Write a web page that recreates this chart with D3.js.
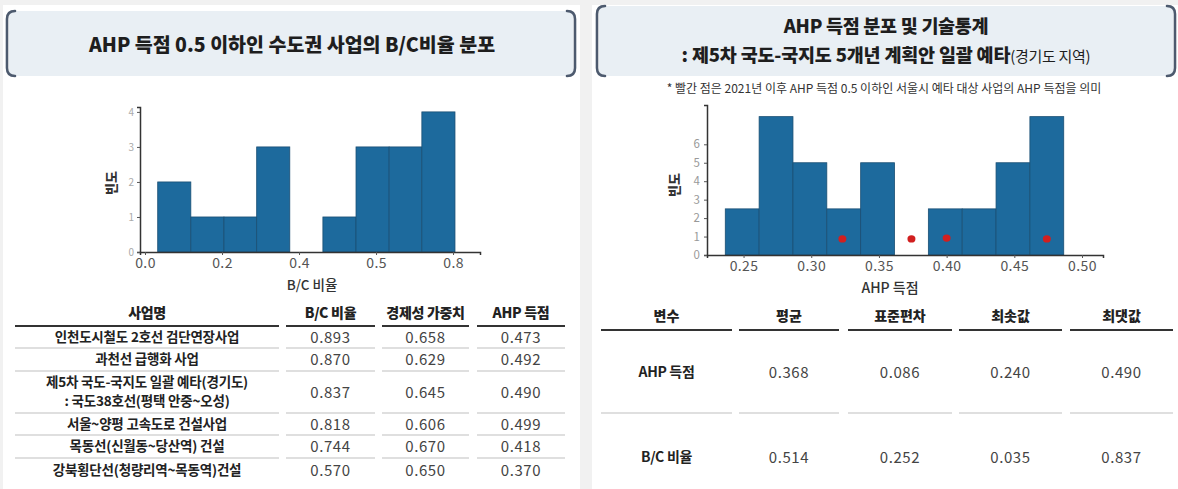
<!DOCTYPE html>
<html><head><meta charset="utf-8">
<script src="https://cdn.jsdelivr.net/npm/d3@7"></script>
<style>
html,body{margin:0;padding:0;background:#f1f1f1;}
svg{display:block;}
text{font-family:"Noto Sans CJK KR","Noto Sans",sans-serif;}
</style></head>
<body>
<svg id="c" width="1178" height="489"></svg>
<script>
// ---------- DATA ----------
// Left histogram: B/C ratio distribution (bin edges and counts)
const bcBinEdges = [0.033, 0.119, 0.205, 0.290, 0.376, 0.462, 0.548, 0.634, 0.719, 0.805];
const bcCounts   = [2, 1, 1, 3, 0, 1, 3, 3, 4];
const bcXTicks = [0, 0.2, 0.4, 0.6, 0.8];
const bcXTickLabels = ["0.0", "0.2", "0.4", "0.5", "0.8"];
const bcYTicks = [0, 1, 2, 3, 4];

// Right histogram: AHP score distribution (density)
const ahpBinEdges = [0.2365, 0.2615, 0.2865, 0.3115, 0.3365, 0.3615, 0.3865, 0.4115, 0.4365, 0.4615, 0.4865];
const ahpDensity  = [2.5, 7.5, 5, 2.5, 5, 0, 2.5, 2.5, 5, 7.5];
const ahpXTicks = [0.25, 0.30, 0.35, 0.40, 0.45, 0.50];
const ahpXTickLabels = ["0.25", "0.30", "0.35", "0.40", "0.45", "0.50"];
const ahpYTicks = [0, 1, 2, 3, 4, 5, 6];
// Red points: Seoul projects' AHP scores
const seoulAhpX = [0.323, 0.374, 0.400, 0.474];
const seoulAhpY = [0.87, 0.87, 0.92, 0.87];

// Left table
const tableHeaders = ["사업명", "B/C 비율", "경제성 가중치", "AHP 득점"];
const projectNames = [
  ["인천도시철도 2호선 검단연장사업"],
  ["과천선 급행화 사업"],
  ["제5차 국도-국지도 일괄 예타(경기도)", ": 국도38호선(평택 안중~오성)"],
  ["서울~양평 고속도로 건설사업"],
  ["목동선(신월동~당산역) 건설"],
  ["강북횡단선(청량리역~목동역)건설"]
];
const bcRatios   = ["0.893", "0.870", "0.837", "0.818", "0.744", "0.570"];
const econWeights = ["0.658", "0.629", "0.645", "0.606", "0.670", "0.650"];
const ahpScores  = ["0.473", "0.492", "0.490", "0.499", "0.418", "0.370"];

// Right table
const statHeaders = ["변수", "평균", "표준편차", "최솟값", "최댓값"];
const statVars = ["AHP 득점", "B/C 비율"];
const statMean = ["0.368", "0.514"];
const statStd  = ["0.086", "0.252"];
const statMin  = ["0.240", "0.035"];
const statMax  = ["0.490", "0.837"];

// ---------- DRAW ----------
const svg = d3.select("#c");
const BAR = "#1d6a9d", BAR_STROKE = "#1a4f74";
const NUMF = "'Noto Sans','DejaVu Sans',sans-serif";

// panels
svg.append("rect").attr("x",3).attr("y",5).attr("width",577).attr("height",484).attr("fill","#fff");
svg.append("rect").attr("x",592).attr("y",5).attr("width",586).attr("height",484).attr("fill","#fff");

function titleBox(x0, y0, x1, y1){
  const g = svg.append("g");
  g.append("rect").attr("x",x0+2).attr("y",y0).attr("width",x1-x0-4).attr("height",y1-y0).attr("fill","#e9eff4");
  const r = 8;
  g.append("path").attr("d",`M${x0+r},${y0} Q${x0},${y0} ${x0},${y0+r} L${x0},${y1-r} Q${x0},${y1} ${x0+r},${y1}`)
    .attr("fill","none").attr("stroke","#4d5a6e").attr("stroke-width",2.6).attr("stroke-linecap","round");
  g.append("path").attr("d",`M${x1-r},${y0} Q${x1},${y0} ${x1},${y0+r} L${x1},${y1-r} Q${x1},${y1} ${x1-r},${y1}`)
    .attr("fill","none").attr("stroke","#4d5a6e").attr("stroke-width",2.6).attr("stroke-linecap","round");
}
titleBox(7, 11, 575, 76);
titleBox(597, 6, 1175, 76);

svg.append("text").attr("x",292).attr("y",52).attr("text-anchor","middle")
  .attr("font-size",19.5).attr("font-weight",900).attr("fill","#1e1e1e").attr("letter-spacing",0)
  .text("AHP 득점 0.5 이하인 수도권 사업의 B/C비율 분포");

svg.append("text").attr("x",886).attr("y",33).attr("text-anchor","middle")
  .attr("font-size",18.5).attr("font-weight",900).attr("fill","#1e1e1e").attr("letter-spacing",-0.3)
  .text("AHP 득점 분포 및 기술통계");
const t2 = svg.append("text").attr("x",886).attr("y",62).attr("text-anchor","middle")
  .attr("font-size",18.5).attr("font-weight",900).attr("fill","#1e1e1e").attr("letter-spacing",-0.2);
t2.append("tspan").text(": 제5차 국도-국지도 5개년 계획안 일괄 예타");
t2.append("tspan").attr("font-size",15).attr("font-weight",400).attr("letter-spacing",-0.3).text("(경기도 지역)");

svg.append("text").attr("x",884).attr("y",93).attr("text-anchor","middle")
  .attr("font-size",12).attr("fill","#333").attr("letter-spacing",0)
  .text("* 빨간 점은 2021년 이후 AHP 득점 0.5 이하인 서울시 예타 대상 사업의 AHP 득점을 의미");

// ---------- Left histogram ----------
const xL = d3.scaleLinear().domain([-0.013, 0.870]).range([140, 480]);
const yL = d3.scaleLinear().domain([0, 4.14]).range([252, 107]);
const gL = svg.append("g");
gL.selectAll("rect.bar").data(bcCounts).join("rect")
  .attr("x",(d,i)=>xL(bcBinEdges[i]))
  .attr("width",(d,i)=>xL(bcBinEdges[i+1])-xL(bcBinEdges[i]))
  .attr("y",d=>yL(d)).attr("height",d=>yL(0)-yL(d))
  .attr("fill",BAR).attr("stroke",BAR_STROKE).attr("stroke-width",0.8);

const axXL = gL.append("g").attr("transform","translate(0,252)")
  .call(d3.axisBottom(xL).tickValues(bcXTicks).tickFormat((d,i)=>bcXTickLabels[i]).tickSizeOuter(0).tickSize(3).tickPadding(3));
const axYL = gL.append("g").attr("transform","translate(140,0)")
  .call(d3.axisLeft(yL).tickValues(bcYTicks).tickFormat(d3.format("d")).tickSizeOuter(0).tickSize(3).tickPadding(3));
[axXL, axYL].forEach(a=>{a.select(".domain").attr("stroke","#333").attr("stroke-width",1.5);
  a.selectAll(".tick line").attr("stroke","#555");});
axXL.selectAll("text").attr("font-size",14).attr("fill","#555").attr("font-family",NUMF).attr("letter-spacing",0.4);
axYL.selectAll("text").attr("font-size",10).attr("fill","#aaa").attr("font-family",NUMF);
gL.append("text").attr("x",312).attr("y",290).attr("text-anchor","middle").attr("font-size",13.5)
  .attr("font-weight",500).attr("fill","#333").text("B/C 비율");
gL.append("text").attr("transform","translate(116,183) rotate(-90)").attr("text-anchor","middle")
  .attr("font-size",13).attr("font-weight",900).attr("fill","#333").text("빈도");

// ---------- Right histogram ----------
const xR = d3.scaleLinear().domain([0.2230, 0.5155]).range([707, 1103]);
const yR = d3.scaleLinear().domain([0, 8.13]).range([255, 105]);
const gR = svg.append("g");
gR.selectAll("rect.bar").data(ahpDensity).join("rect")
  .attr("x",(d,i)=>xR(ahpBinEdges[i]))
  .attr("width",(d,i)=>xR(ahpBinEdges[i+1])-xR(ahpBinEdges[i]))
  .attr("y",d=>yR(d)).attr("height",d=>yR(0)-yR(d))
  .attr("fill",BAR).attr("stroke",BAR_STROKE).attr("stroke-width",0.8);
gR.selectAll("ellipse.pt").data(seoulAhpX).join("ellipse")
  .attr("cx",d=>xR(d)).attr("cy",(d,i)=>yR(seoulAhpY[i])).attr("rx",4).attr("ry",3.6).attr("fill","#d11f1f");
const axXR = gR.append("g").attr("transform","translate(0,255)")
  .call(d3.axisBottom(xR).tickValues(ahpXTicks).tickFormat((d,i)=>ahpXTickLabels[i]).tickSizeOuter(0).tickSize(3).tickPadding(3));
const axYR = gR.append("g").attr("transform","translate(707,0)")
  .call(d3.axisLeft(yR).tickValues(ahpYTicks).tickFormat(d3.format("d")).tickSizeOuter(0).tickSize(3).tickPadding(4));
[axXR, axYR].forEach(a=>{a.select(".domain").attr("stroke","#333").attr("stroke-width",1.5);
  a.selectAll(".tick line").attr("stroke","#555");});
axXR.selectAll("text").attr("font-size",14).attr("fill","#555").attr("font-family",NUMF).attr("letter-spacing",0.4);
axYR.selectAll("text").attr("font-size",11.5).attr("fill","#999").attr("font-family",NUMF);
gR.append("text").attr("x",890).attr("y",293).attr("text-anchor","middle").attr("font-size",14)
  .attr("font-weight",500).attr("fill","#333").text("AHP 득점");
gR.append("text").attr("transform","translate(679,185) rotate(-90)").attr("text-anchor","middle")
  .attr("font-size",13).attr("font-weight",900).attr("fill","#333").text("빈도");

// ---------- Left table ----------
const colsL = [[15,279],[286,375],[382,469],[477,565]];
const gT = svg.append("g");
tableHeaders.forEach((h,i)=>{
  const cx = (colsL[i][0]+colsL[i][1])/2;
  gT.append("text").attr("x",cx).attr("y",318).attr("text-anchor","middle").attr("font-size",14)
    .attr("font-weight",900).attr("fill","#222").attr("letter-spacing",-0.3).text(h);
  gT.append("line").attr("x1",colsL[i][0]).attr("x2",colsL[i][1]).attr("y1",326).attr("y2",326)
    .attr("stroke","#333").attr("stroke-width",2);
});
const rowTops = [326, 348, 371, 413, 435, 458];
const rowBottoms = [348, 371, 413, 435, 458, 482];
projectNames.forEach((lines,r)=>{
  const mid = (rowTops[r]+rowBottoms[r])/2;
  lines.forEach((ln,j)=>{
    gT.append("text").attr("x",(colsL[0][0]+colsL[0][1])/2)
      .attr("y",mid + (j-(lines.length-1)/2)*19 + 4.5).attr("text-anchor","middle")
      .attr("font-size",13.5).attr("font-weight",700).attr("fill","#222").attr("letter-spacing",-0.2).text(ln);
  });
  [bcRatios, econWeights, ahpScores].forEach((arr,c)=>{
    gT.append("text").attr("x",(colsL[c+1][0]+colsL[c+1][1])/2).attr("y",mid+5.5).attr("text-anchor","middle")
      .attr("font-size",15).attr("fill","#444").attr("font-family",NUMF).attr("letter-spacing",0.6).text(arr[r]);
  });
  if (r < projectNames.length-1) {
    colsL.forEach(cs=>{
      gT.append("line").attr("x1",cs[0]).attr("x2",cs[1]).attr("y1",rowBottoms[r]).attr("y2",rowBottoms[r])
        .attr("stroke","#d4d4d4").attr("stroke-width",1.3);
    });
  }
});

// ---------- Right table ----------
const colsR = [[601,732],[739,839],[848,952],[959,1062],[1070,1173]];
const gS = svg.append("g");
statHeaders.forEach((h,i)=>{
  const cx = (colsR[i][0]+colsR[i][1])/2;
  gS.append("text").attr("x",cx).attr("y",321).attr("text-anchor","middle").attr("font-size",14)
    .attr("font-weight",900).attr("fill","#222").text(h);
  gS.append("line").attr("x1",colsR[i][0]).attr("x2",colsR[i][1]).attr("y1",330).attr("y2",330)
    .attr("stroke","#333").attr("stroke-width",2.2);
  gS.append("line").attr("x1",colsR[i][0]).attr("x2",colsR[i][1]).attr("y1",413).attr("y2",413)
    .attr("stroke","#d4d4d4").attr("stroke-width",1.5);
});
const statRowY = [372, 457];
statVars.forEach((v,r)=>{
  gS.append("text").attr("x",(colsR[0][0]+colsR[0][1])/2).attr("y",statRowY[r]+5).attr("text-anchor","middle")
    .attr("font-size",14).attr("font-weight",700).attr("fill","#222").attr("letter-spacing",-0.3).text(v);
  [statMean, statStd, statMin, statMax].forEach((arr,c)=>{
    gS.append("text").attr("x",(colsR[c+1][0]+colsR[c+1][1])/2).attr("y",statRowY[r]+5.5).attr("text-anchor","middle")
      .attr("font-size",15).attr("fill","#444").attr("font-family",NUMF).attr("letter-spacing",0.6).text(arr[r]);
  });
});
</script>
</body></html>
